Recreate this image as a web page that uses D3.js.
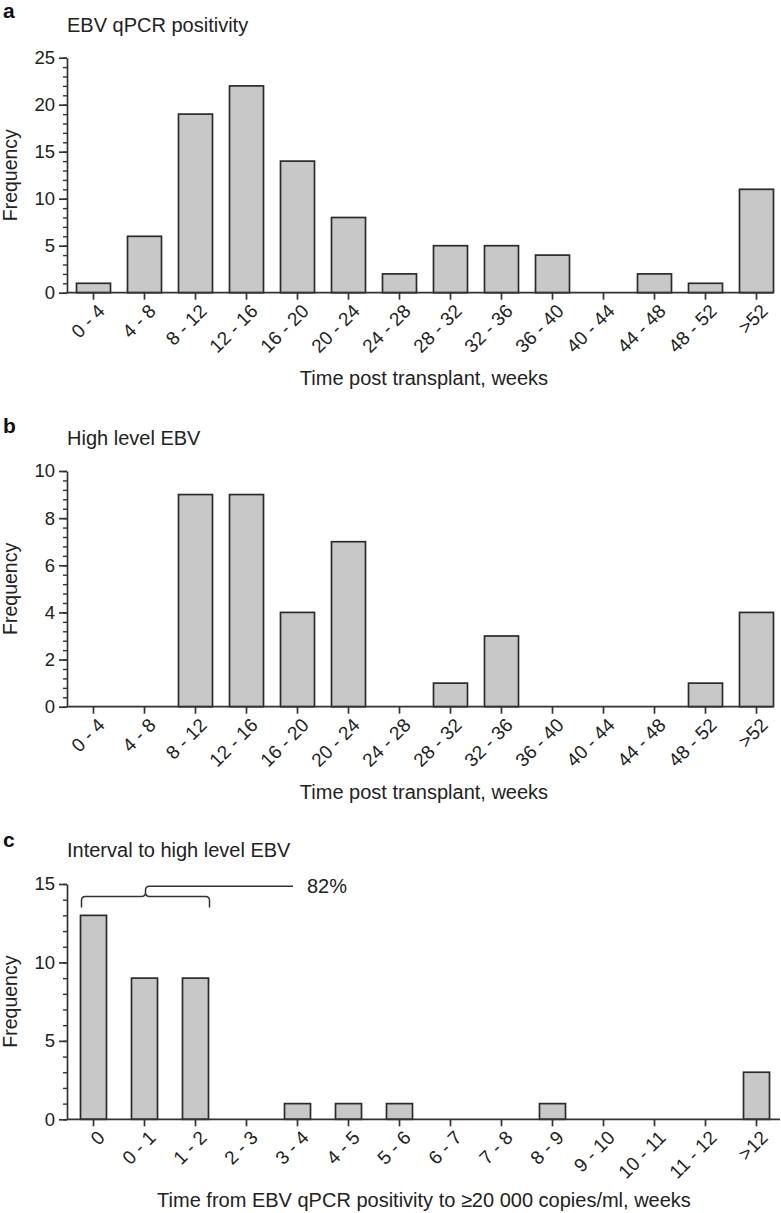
<!DOCTYPE html>
<html><head><meta charset="utf-8">
<script src="https://cdn.jsdelivr.net/npm/d3@7"></script>
<style>
body{margin:0;background:#fff;}
svg{display:block;font-family:"Liberation Sans",Arial,Helvetica,sans-serif;}
</style></head>
<body>
<svg id="chart" width="781" height="1213"></svg>
<script>
// ---- data ----
const catsA = ["0 - 4","4 - 8","8 - 12","12 - 16","16 - 20","20 - 24","24 - 28","28 - 32","32 - 36","36 - 40","40 - 44","44 - 48","48 - 52",">52"];
const valsA = [1,6,19,22,14,8,2,5,5,4,0,2,1,11];
const valsB = [0,0,9,9,4,7,0,1,3,0,0,0,1,4];
const catsC = ["0","0 - 1","1 - 2","2 - 3","3 - 4","4 - 5","5 - 6","6 - 7","7 - 8","8 - 9","9 - 10","10 - 11","11 - 12",">12"];
const valsC = [13,9,9,0,1,1,1,0,0,1,0,0,0,3];
const ticksA = [0,5,10,15,20,25];
const ticksB = [0,2,4,6,8,10];
const ticksC = [0,5,10,15];
const panelLetters = ["a","b","c"];
const panelTitles = ["EBV qPCR positivity","High level EBV","Interval to high level EBV"];
const xTitles = ["Time post transplant, weeks","Time post transplant, weeks","Time from EBV qPCR positivity to \u226520 000 copies/ml, weeks"];
const yTitle = "Frequency";
const bracketLabel = "82%";

const svg = d3.select("#chart");
const ink = "#222";
const barFill = "#c8c8c8";
const barStroke = "#2b2b2b";

function panel(opts){
  const g = svg.append("g");
  const x = d3.scaleBand().domain(opts.cats).range([68, 782])
    .paddingInner(opts.padIn).paddingOuter(opts.padIn/2);
  const y = d3.scaleLinear().domain([0, opts.max]).range([opts.y0, opts.yTop]);
  const axX = 67;

  // panel letter & title
  g.append("text").attr("x",3).attr("y",opts.letterY).attr("font-weight","bold")
    .attr("font-size",21).attr("fill","#111").text(opts.letter);
  g.append("text").attr("x",67).attr("y",opts.titleY).attr("font-size",20)
    .attr("fill",ink).text(opts.title);

  // bars
  g.selectAll("rect.bar").data(opts.vals.map((v,i)=>({c:opts.cats[i],v})))
    .enter().filter(d=>d.v>0).append("rect")
    .attr("x",d=>x(d.c)).attr("width",x.bandwidth())
    .attr("y",d=>y(d.v)).attr("height",d=>y(0)-y(d.v))
    .attr("fill",barFill).attr("stroke",barStroke).attr("stroke-width",1.7);

  // y axis minor
  const minor = d3.range(0, opts.max + 1e-9, opts.minorStep);
  const gm = g.append("g").attr("transform",`translate(${axX},0)`)
    .call(d3.axisLeft(y).tickValues(minor).tickSize(4).tickFormat(""));
  gm.select(".domain").remove();
  gm.selectAll("line").attr("stroke","#333").attr("stroke-width",1.4);
  // y axis major
  const gy = g.append("g").attr("transform",`translate(${axX},0)`)
    .call(d3.axisLeft(y).tickValues(opts.ticks).tickSize(8).tickPadding(4).tickSizeOuter(0));
  gy.select(".domain").attr("stroke","#333").attr("stroke-width",1.7);
  gy.selectAll(".tick line").attr("stroke","#333").attr("stroke-width",1.7);
  gy.selectAll(".tick text").attr("font-size",18.5).attr("fill",ink).attr("font-family","inherit");

  // x axis
  const gx = g.append("g").attr("transform",`translate(0,${opts.y0})`)
    .call(d3.axisBottom(x).tickSize(7).tickSizeOuter(0));
  gx.select(".domain").remove();
  gx.append("line").attr("x1",axX).attr("x2",opts.xEnd).attr("y1",0).attr("y2",0)
    .attr("stroke","#333").attr("stroke-width",1.7);
  gx.selectAll(".tick line").attr("stroke","#333").attr("stroke-width",1.7);
  gx.selectAll(".tick text").attr("font-size",19).attr("fill",ink).attr("font-family","inherit")
    .attr("text-anchor","end").attr("dy",null).attr("y",null)
    .attr("transform","translate(9,16) rotate(-45)")
    .attr("dominant-baseline","middle");

  // x title
  g.append("text").attr("x",opts.xTitleX).attr("y",opts.y0+opts.xTitleDy).attr("text-anchor","middle")
    .attr("font-size",20).attr("fill",ink).text(opts.xTitle);
  // y title
  g.append("text").attr("transform",`translate(17,${(opts.y0+opts.yTop)/2}) rotate(-90)`)
    .attr("text-anchor","middle").attr("font-size",19.5).attr("fill",ink).text(yTitle);
  return {x,y,g};
}

panel({letter:panelLetters[0],title:panelTitles[0],letterY:18,titleY:32,cats:catsA,vals:valsA,max:25,ticks:ticksA,minorStep:1,
  y0:292.7,yTop:57.7,padIn:1/3,xEnd:772.5,xTitle:xTitles[0],xTitleX:424,xTitleDy:92});
panel({letter:panelLetters[1],title:panelTitles[1],letterY:433,titleY:445,cats:catsA,vals:valsB,max:10,ticks:ticksB,minorStep:0.4,
  y0:706.7,yTop:471,padIn:1/3,xEnd:772.5,xTitle:xTitles[1],xTitleX:424,xTitleDy:92});
const pc = panel({letter:panelLetters[2],title:panelTitles[2],letterY:847,titleY:857,cats:catsC,vals:valsC,max:15,ticks:ticksC,minorStep:1,
  y0:1119.3,yTop:884,padIn:0.49,xEnd:780,xTitle:xTitles[2],xTitleX:424,xTitleDy:88});

// bracket over first three bars of panel c
{
  const x = pc.x, y = pc.y;
  const x1 = x(catsC[0]) + 1, x2 = x(catsC[2]) + x.bandwidth() + 1;
  const xm = (x1 + x2) / 2;
  const yb = y(14.2), yl = y(13.5), yt = y(14.85);
  const r = 4;
  const p = d3.path();
  p.moveTo(x1, yl);
  p.lineTo(x1, yb + r);
  p.quadraticCurveTo(x1, yb, x1 + r, yb);
  p.lineTo(xm - r, yb);
  p.quadraticCurveTo(xm, yb, xm, yb - r);
  p.lineTo(xm, yt + r);
  p.quadraticCurveTo(xm, yt, xm + r, yt);
  p.lineTo(293, yt);
  p.moveTo(xm, yb - r);
  p.quadraticCurveTo(xm, yb, xm + r, yb);
  p.lineTo(x2 - r, yb);
  p.quadraticCurveTo(x2, yb, x2, yb + r);
  p.lineTo(x2, yl);
  pc.g.append("path").attr("d", p.toString()).attr("fill","none").attr("stroke","#333").attr("stroke-width",1.5);
  pc.g.append("text").attr("x",307).attr("y",yt+7).attr("font-size",20).attr("fill",ink).text(bracketLabel);
}
</script>
</body></html>
